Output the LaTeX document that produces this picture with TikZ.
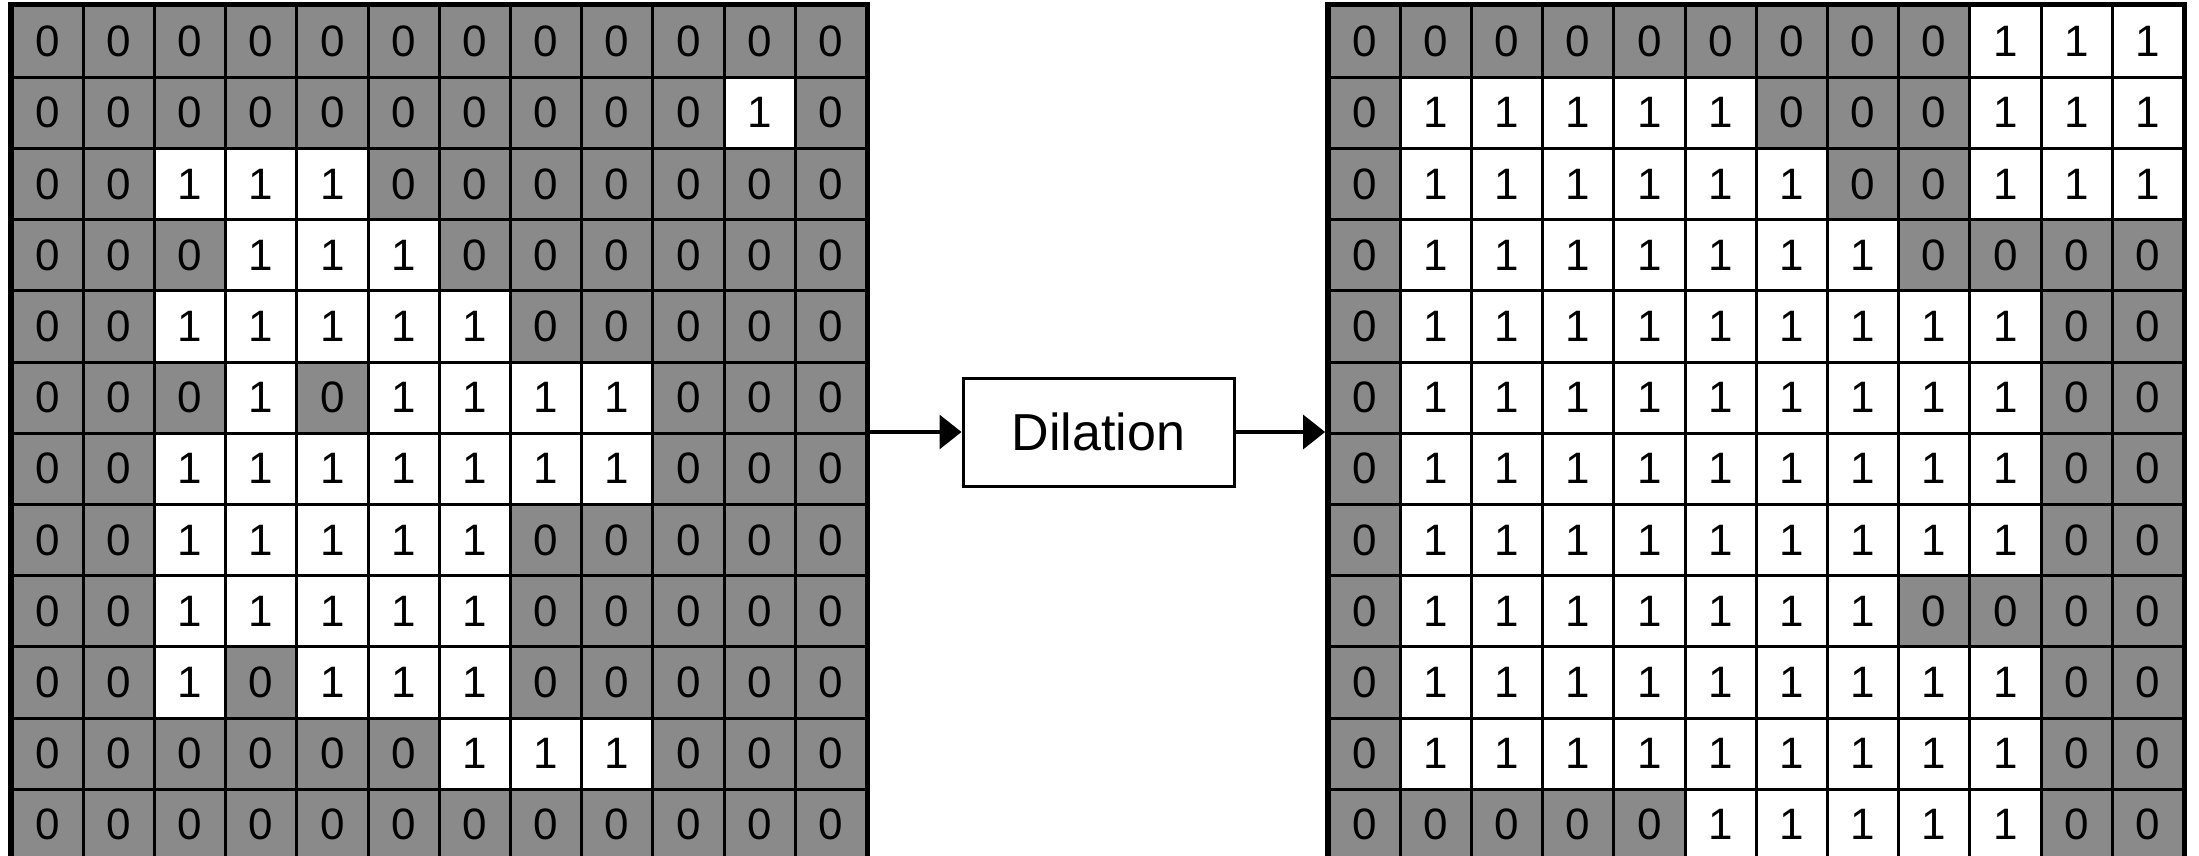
\documentclass[tikz,border=0pt]{standalone}
\usepackage{fontspec}
\setmainfont{Liberation Sans}
\usetikzlibrary{arrows.meta,fit}
\definecolor{cellgray}{RGB}{138,138,138}
\begin{document}
\begin{tikzpicture}[x=0.5pt,y=-0.5pt,
  cell/.style={draw=black, line width=1.5pt, minimum size=35.6pt, inner sep=0pt,
    font=\fontsize{22}{26}\selectfont},
  v0/.style={fill=cellgray},
  v1/.style={fill=white},
  gridframe/.style={draw=black, line width=2.4pt, inner sep=0pt},
  stage/.style={draw=black, line width=1.5pt, minimum width=135.5pt,
    minimum height=54pt, inner sep=0pt, font=\fontsize{26}{30}\selectfont},
  flow/.style={-{Triangle[length=11pt,width=17pt]}, line width=1.6pt}]
\path[use as bounding box] (0,0) rectangle (2199,856);
\clip (0,0) rectangle (2199,856);

% input image
\foreach \rowlist [count=\r from 0] in {
  {0,0,0,0,0,0,0,0,0,0,0,0},
  {0,0,0,0,0,0,0,0,0,0,1,0},
  {0,0,1,1,1,0,0,0,0,0,0,0},
  {0,0,0,1,1,1,0,0,0,0,0,0},
  {0,0,1,1,1,1,1,0,0,0,0,0},
  {0,0,0,1,0,1,1,1,1,0,0,0},
  {0,0,1,1,1,1,1,1,1,0,0,0},
  {0,0,1,1,1,1,1,0,0,0,0,0},
  {0,0,1,1,1,1,1,0,0,0,0,0},
  {0,0,1,0,1,1,1,0,0,0,0,0},
  {0,0,0,0,0,0,1,1,1,0,0,0},
  {0,0,0,0,0,0,0,0,0,0,0,0}}{
  \foreach \v [count=\c from 0] in \rowlist {
    \node[cell, v\v] (L-\r-\c) at ({12+71.2*(\c+0.5)}, {6+71.2*(\r+0.5)}) {\v};
  }
}
\node[gridframe, fit=(L-0-0)(L-11-11)] (Lbox) {};

% dilated image
\foreach \rowlist [count=\r from 0] in {
  {0,0,0,0,0,0,0,0,0,1,1,1},
  {0,1,1,1,1,1,0,0,0,1,1,1},
  {0,1,1,1,1,1,1,0,0,1,1,1},
  {0,1,1,1,1,1,1,1,0,0,0,0},
  {0,1,1,1,1,1,1,1,1,1,0,0},
  {0,1,1,1,1,1,1,1,1,1,0,0},
  {0,1,1,1,1,1,1,1,1,1,0,0},
  {0,1,1,1,1,1,1,1,1,1,0,0},
  {0,1,1,1,1,1,1,1,0,0,0,0},
  {0,1,1,1,1,1,1,1,1,1,0,0},
  {0,1,1,1,1,1,1,1,1,1,0,0},
  {0,0,0,0,0,1,1,1,1,1,0,0}}{
  \foreach \v [count=\c from 0] in \rowlist {
    \node[cell, v\v] (R-\r-\c) at ({1329+71.2*(\c+0.5)}, {6+71.2*(\r+0.5)}) {\v};
  }
}
\node[gridframe, fit=(R-0-0)(R-11-11)] (Rbox) {};

% operation
\node[stage] (dil) at (1098.5,432) {Dilation};
\draw[flow] (Lbox.east |- dil.west) -- (dil.west);
\draw[flow] (dil.east) -- (Rbox.west |- dil.east);
\end{tikzpicture}
\end{document}
